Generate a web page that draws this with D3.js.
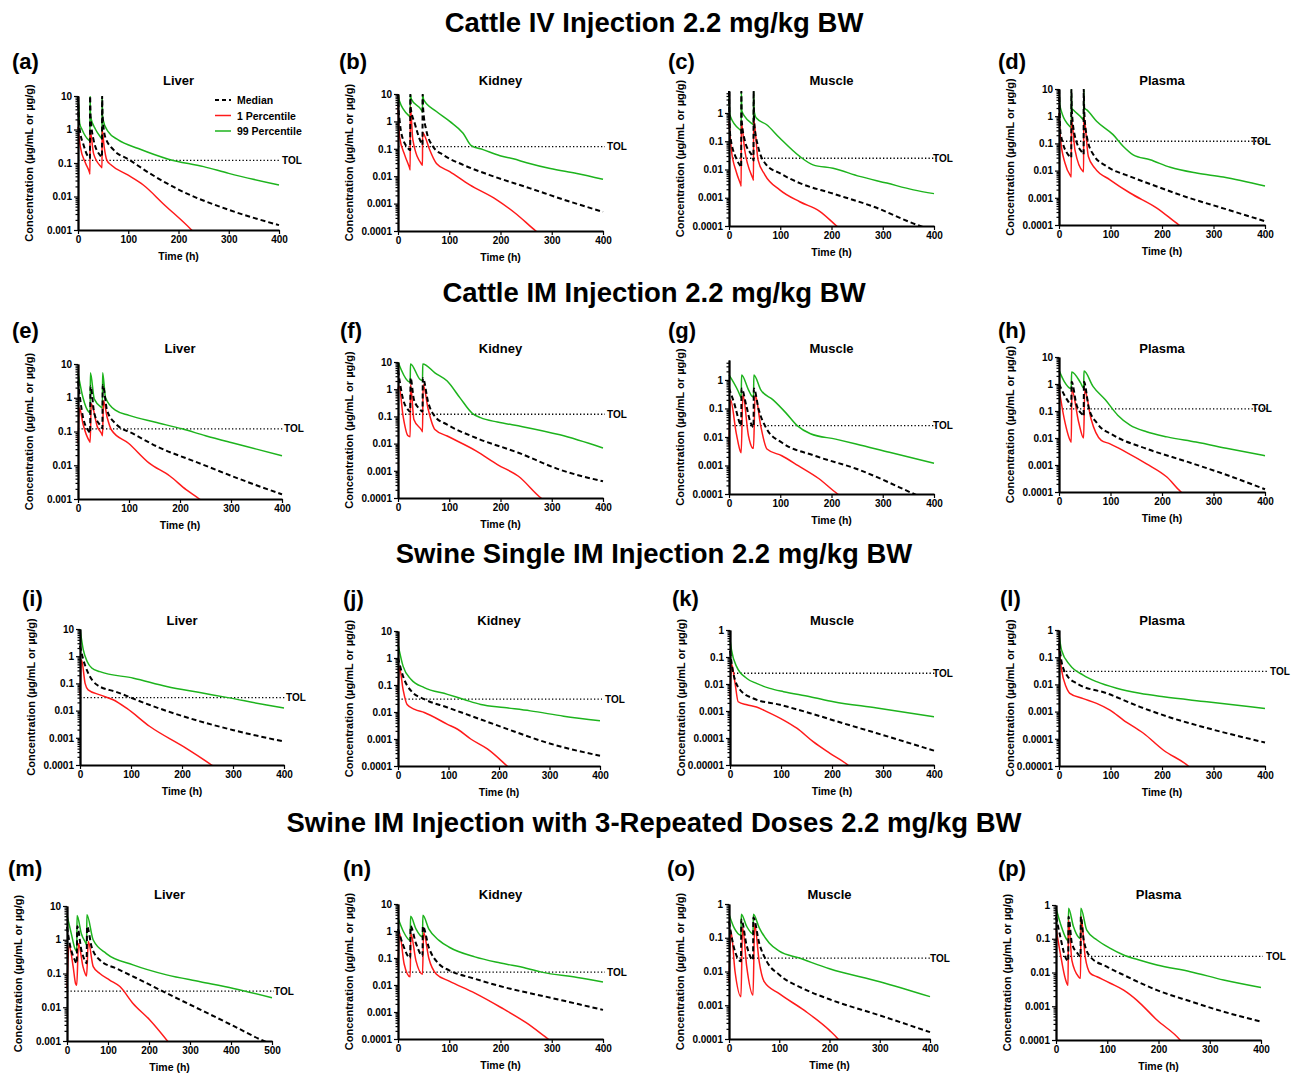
<!DOCTYPE html>
<html>
<head>
<meta charset="utf-8">
<script src="https://cdn.jsdelivr.net/npm/d3@7"></script>
<style>
  body { margin: 0; background: #fff; }
  text { font-family: "Liberation Sans", Arial, sans-serif; font-weight: bold; fill: #000; }
</style>
</head>
<body>
<svg id="fig" width="1298" height="1075"></svg>
<script>
// ---- labels ----
const sectionTitles = [
  "Cattle IV Injection 2.2 mg/kg BW",
  "Cattle IM Injection 2.2 mg/kg BW",
  "Swine Single IM Injection 2.2 mg/kg BW",
  "Swine IM Injection with 3-Repeated Doses 2.2 mg/kg BW"
];
const panelLetters = ["(a)","(b)","(c)","(d)","(e)","(f)","(g)","(h)","(i)","(j)","(k)","(l)","(m)","(n)","(o)","(p)"];
const organs = ["Liver","Kidney","Muscle","Plasma"];
const legendLabels = ["Median","1 Percentile","99 Percentile"];
const xTitle = "Time (h)";
const yTitle = "Concentration (\u00b5g/mL or \u00b5g/g)";
const tolText = "TOL";

// ---- axis settings per panel ----
const tolValues = [0.12,0.12,0.025,0.12, 0.12,0.12,0.025,0.12, 0.03,0.03,0.025,0.03, 0.03,0.03,0.025,0.03];
const yMaxValues = [10,10,6,10, 10,10,5,10, 10,10,1,1, 10,10,1,1];
const yMinValues = [0.001,0.0001,0.0001,0.0001, 0.001,0.0001,0.0001,0.0001, 0.0001,0.0001,0.00001,0.00001, 0.001,0.0001,0.0001,0.0001];
const xMaxValues = [400,400,400,400, 400,400,400,400, 400,400,400,400, 500,400,400,400];
const yTickValues = [10,1,0.1,0.01,0.001,0.0001,0.00001];
const yTickLabels = ["10","1","0.1","0.01","0.001","0.0001","0.00001"];
const xTickStep = 100;

// ---- concentration-time profiles: [time (h), concentration] ----
// Cattle IV
const aMedian = [[0,10],[1,2.5],[4.6,0.77],[10,0.39],[20,0.155],[23.8,0.14],[24,10],[25,2.5],[31,0.49],[44,0.17],[47.8,0.15],[48,10],[49,2.5],[54,0.61],[71,0.245],[100,0.13],[143,0.049],[202,0.0156],[300,0.004],[400,0.0014]];
const aLow = [[0,1.2],[4.6,0.31],[15,0.098],[23.5,0.049],[23.8,0.047],[24,0.97],[31,0.19],[46,0.077],[47.8,0.072],[48,1.0],[52,0.31],[57.5,0.12],[66,0.087],[99,0.044],[130,0.022],[170,0.006],[226,0.001],[240,0.0006]];
const aHigh = [[0,10],[2,3.4],[3.3,1.53],[8,1.0],[21,0.49],[23.8,0.46],[24,10],[25,2.4],[35,1.0],[47,0.54],[47.8,0.52],[48,10],[49,2.2],[60,0.86],[80,0.49],[120,0.27],[180,0.13],[250,0.078],[300,0.049],[400,0.022]];

const bMedian = [[0,10],[1,3],[3,1.15],[6.5,0.37],[19.6,0.105],[23.8,0.09],[24,10],[25,3],[32.6,0.86],[45.7,0.16],[47.8,0.14],[48,10],[49,3],[55,0.49],[68.5,0.12],[88,0.06],[127,0.026],[179,0.011],[258,0.0036],[323,0.0014],[400,0.0005]];
const bLow = [[0,3.5],[3,0.28],[13,0.06],[23,0.019],[23.8,0.017],[24,3.5],[29,0.21],[45.7,0.028],[47.8,0.025],[48,0.4],[52,0.3],[62,0.09],[75,0.029],[101,0.0147],[140,0.0048],[192,0.0014],[232,0.0004],[269,0.0001],[280,0.00007]];
const bHigh = [[0,10],[3,5.4],[23,1.5],[23.8,1.45],[24,10],[26,6.5],[47.5,2.3],[47.8,2.2],[48,10],[50,6.2],[75,2.3],[101,1.0],[127,0.37],[143,0.13],[166,0.093],[199,0.056],[225,0.043],[251,0.031],[297,0.019],[349,0.0125],[400,0.0077]];

const cMedian = [[0,6],[1,0.5],[2.6,0.15],[14,0.025],[22,0.0135],[23.8,0.012],[24,6],[25,0.5],[30.6,0.11],[47.5,0.022],[47.8,0.021],[48,6],[49,0.5],[56.7,0.066],[73,0.0146],[99,0.0074],[138,0.0033],[203,0.0014],[281,0.00049],[373,0.0001],[400,0.00007]];
const cLow = [[0,0.5],[4.6,0.05],[14,0.0085],[23.5,0.0027],[23.8,0.0026],[24,0.45],[30.6,0.05],[47.6,0.0043],[47.8,0.0042],[48,0.6],[56.7,0.022],[70,0.0065],[99,0.0019],[138,0.00072],[177,0.00033],[210,0.0001],[220,0.00007]];
const cHigh = [[0,6],[1,1.2],[2.6,0.76],[21,0.26],[23.8,0.24],[24,6],[25,1.2],[30.6,0.76],[47,0.39],[47.8,0.38],[48,6],[49,1.2],[53.4,0.66],[73,0.39],[99,0.13],[138,0.029],[164,0.0146],[203,0.011],[255,0.0057],[308,0.0033],[360,0.0019],[400,0.0014]];

const dMedian = [[0,10],[1,1.5],[3,0.24],[18,0.038],[23,0.031],[23.8,0.03],[24,10],[25,1.5],[31,0.18],[46,0.044],[47.8,0.04],[48,10],[49,1.5],[54,0.18],[67,0.038],[93,0.0142],[138,0.0061],[190,0.0026],[254,0.00097],[319,0.00041],[400,0.000138]];
const dLow = [[0,1.3],[3,0.14],[11.6,0.019],[23,0.0061],[23.8,0.0058],[24,0.75],[31,0.058],[47,0.0092],[47.8,0.009],[48,1.0],[57,0.033],[70,0.012],[99,0.0046],[138,0.0015],[190,0.00042],[233,0.0001],[245,0.00007]];
const dHigh = [[0,10],[2,2.3],[21,0.42],[23.8,0.38],[24,10],[25,2],[28,1.7],[47,0.74],[47.8,0.7],[48,10],[49,2],[54,1.7],[73,0.65],[105,0.21],[125,0.077],[144,0.038],[177,0.025],[216,0.0132],[267,0.0081],[319,0.0058],[400,0.0027]];

// Cattle IM
const eMedian = [[0,3.1],[9.7,0.27],[22,0.098],[23.8,0.09],[24.5,2.2],[32,0.34],[46,0.137],[47.8,0.125],[48.5,2.4],[57,0.42],[74,0.17],[107,0.088],[155,0.036],[236,0.0118],[317,0.0039],[400,0.00137]];
const eLow = [[0,0.045],[3,0.5],[9.7,0.17],[23,0.05],[23.8,0.048],[26,0.66],[38,0.137],[47.6,0.078],[48,0.075],[50,0.82],[57,0.27],[66,0.109],[99,0.045],[139,0.0118],[180,0.0048],[212,0.0019],[238,0.001],[250,0.0007]];
const eHigh = [[0,5.5],[9.7,1.02],[22,0.37],[23.8,0.36],[24.3,5.5],[32,0.91],[46,0.52],[47.8,0.5],[48.3,5.5],[54,1.0],[74,0.42],[100,0.3],[150,0.19],[204,0.12],[250,0.075],[300,0.047],[350,0.03],[400,0.019]];

const fMedian = [[0,5],[10,0.42],[19,0.18],[23.8,0.15],[24.5,2.6],[31,0.42],[43,0.18],[47.8,0.15],[48.5,2.6],[59,0.32],[72,0.1],[96,0.05],[153,0.016],[235,0.0046],[316,0.0011],[400,0.00041]];
const fLow = [[0,1.0],[2,1.3],[10,0.1],[19,0.02],[23.8,0.018],[24.5,1.5],[31,0.077],[47,0.029],[47.8,0.027],[49,1.5],[59,0.18],[72,0.033],[96,0.019],[153,0.0053],[194,0.0017],[235,0.00063],[279,0.0001],[290,0.00007]];
const fHigh = [[0,10],[19,2.0],[23.8,1.8],[24.3,8.5],[43,2.3],[47.8,2.1],[48.3,8.5],[72,4.0],[96,2.0],[121,0.48],[145,0.13],[161,0.09],[194,0.062],[243,0.042],[316,0.021],[400,0.0069]];

const gMedian = [[0,0.51],[10,0.156],[22,0.028],[23.8,0.025],[24.5,0.5],[34,0.12],[42,0.032],[47.8,0.022],[48.5,0.5],[58,0.091],[74,0.0186],[103,0.0064],[167,0.0022],[248,0.00077],[361,0.0001],[380,0.00007]];
const gLow = [[0,0.005],[3,0.2],[14,0.014],[23,0.0029],[23.8,0.0028],[27,0.3],[38,0.011],[45,0.0043],[47.8,0.004],[51,0.3],[62,0.024],[74,0.0038],[103,0.0022],[135,0.00099],[175,0.00035],[212,0.0001],[225,0.00007]];
const gHigh = [[0,1.5],[18,0.4],[23,0.25],[23.8,0.24],[24.5,1.5],[38,0.45],[44,0.28],[47.8,0.25],[48.5,1.5],[62,0.45],[86,0.2],[111,0.07],[133,0.025],[159,0.013],[208,0.0084],[248,0.0057],[313,0.0029],[400,0.0012]];

const hMedian = [[0,1.0],[10,0.4],[22,0.17],[23.8,0.15],[24.5,1.2],[34,0.17],[46,0.071],[47.8,0.065],[48.5,1.2],[58,0.126],[74,0.035],[106,0.0126],[170,0.004],[250,0.0013],[330,0.0004],[400,0.000126]];
const hLow = [[0,0.7],[10,0.053],[23.5,0.0071],[23.8,0.007],[25,0.6],[38,0.04],[47.8,0.01],[50,0.6],[62,0.053],[82,0.0082],[98,0.0062],[130,0.003],[170,0.0011],[210,0.00035],[237,0.0001],[250,0.00007]];
const hHigh = [[0,3.2],[10,1.26],[23.8,0.67],[24.5,2.8],[42,1.1],[47.8,0.7],[48.5,3.0],[66,0.82],[90,0.26],[114,0.07],[138,0.03],[170,0.017],[210,0.011],[266,0.0071],[330,0.004],[400,0.0022]];

// Swine single IM
const iMedian = [[0,2.4],[6.5,0.74],[16,0.24],[33,0.089],[72,0.048],[137,0.016],[203,0.0061],[301,0.0019],[400,0.00073]];
const iLow = [[0,0.038],[3,0.74],[10,0.1],[16,0.058],[39,0.038],[65,0.025],[92,0.012],[137,0.0026],[203,0.00047],[258,0.0001],[270,0.00007]];
const iHigh = [[0,10],[6.5,1.7],[14,0.64],[23,0.37],[39,0.27],[105,0.156],[170,0.077],[235,0.046],[290,0.03],[366,0.016],[400,0.0125]];

const jMedian = [[0,1.03],[10,0.21],[26,0.06],[52,0.03],[98,0.0147],[164,0.0053],[230,0.0019],[295,0.00073],[400,0.00024]];
const jLow = [[0,0.052],[3,0.44],[10,0.069],[18,0.019],[33,0.0125],[52,0.0096],[98,0.0035],[118,0.0023],[144,0.001],[177,0.00043],[216,0.0001],[225,0.00007]];
const jHigh = [[0,3.2],[10,0.5],[26,0.16],[52,0.08],[98,0.045],[131,0.029],[164,0.019],[210,0.0146],[262,0.011],[328,0.007],[400,0.0047]];

const kMedian = [[0,0.167],[6.5,0.025],[20,0.006],[46,0.0029],[98,0.0017],[157,0.00083],[222,0.00035],[288,0.00015],[400,0.000034]];
const kLow = [[0,0.0034],[3,0.055],[10,0.0105],[16,0.0022],[33,0.0017],[52,0.0014],[72,0.00095],[105,0.00046],[131,0.00023],[163,0.000073],[196,0.000027],[231,0.00001],[240,0.000007]];
const kHigh = [[0,0.45],[3,0.18],[13,0.044],[33,0.016],[52,0.0105],[78,0.0069],[105,0.0052],[157,0.0034],[203,0.0022],[288,0.0013],[400,0.00061]];

const lMedian = [[0,0.32],[5,0.068],[15,0.022],[34,0.011],[93,0.0047],[157,0.0015],[222,0.00056],[287,0.00025],[400,0.000073]];
const lLow = [[0,0.21],[5,0.034],[13.6,0.0083],[21,0.0047],[47,0.003],[73,0.002],[99,0.00113],[125,0.00049],[164,0.00016],[203,0.000038],[251,0.00001],[260,0.000007]];
const lHigh = [[0,0.69],[5,0.18],[21,0.052],[47,0.022],[73,0.0126],[112,0.0072],[157,0.0047],[203,0.0035],[287,0.0023],[400,0.0013]];

// Swine IM, three repeated doses
const mMedian = [[0,2.4],[6.5,0.78],[19,0.25],[23.8,0.2],[25,2.5],[35,0.5],[43,0.25],[47.8,0.2],[49,2.5],[60,0.62],[80,0.25],[121,0.14],[178,0.065],[243,0.026],[325,0.0085],[406,0.0028],[480,0.001],[500,0.0008]];
const mLow = [[0,0.036],[5,0.7],[15,0.16],[21,0.05],[23.8,0.045],[28,0.78],[39,0.16],[46,0.09],[47.8,0.085],[52,0.88],[64,0.16],[80,0.1],[104,0.064],[129,0.041],[161,0.013],[202,0.0042],[245,0.001],[255,0.0007]];
const mHigh = [[0,5.4],[10.6,1.5],[19,0.56],[23.8,0.45],[24.5,5.2],[35,1.5],[46,0.78],[47.8,0.7],[48.5,5.5],[64,0.98],[96,0.39],[161,0.18],[243,0.091],[325,0.057],[406,0.036],[500,0.019]];

const nMedian = [[0,1.2],[10,0.3],[23.8,0.1],[24.5,1.5],[35,0.35],[47.8,0.12],[48.5,1.5],[60,0.25],[80,0.06],[100,0.035],[150,0.017],[200,0.009],[300,0.0033],[400,0.0012]];
const nLow = [[0,0.05],[3,0.8],[12,0.06],[23.8,0.02],[25,0.8],[35,0.08],[47.8,0.025],[50,0.9],[60,0.1],[75,0.025],[100,0.014],[150,0.005],[200,0.0015],[250,0.0004],[293,0.0001],[300,0.00008]];
const nHigh = [[0,3],[10,1.0],[23.8,0.45],[24.5,3.5],[35,1.2],[47.8,0.6],[48.5,3.8],[60,1.2],[80,0.45],[100,0.25],[150,0.11],[200,0.065],[250,0.042],[280,0.03],[350,0.019],[400,0.013]];

const oMedian = [[0,0.3],[10,0.05],[23.8,0.02],[24.5,0.35],[35,0.06],[47.8,0.022],[48.5,0.4],[60,0.07],[75,0.02],[100,0.008],[150,0.003],[200,0.0015],[300,0.0005],[400,0.00016]];
const oLow = [[0,0.005],[4,0.15],[12,0.01],[23.8,0.0018],[27,0.2],[35,0.015],[47.8,0.002],[51,0.25],[60,0.02],[70,0.005],[100,0.0022],[150,0.0007],[200,0.00018],[217,0.0001],[225,0.00007]];
const oHigh = [[0,0.5],[10,0.2],[23.8,0.12],[24.5,0.5],[35,0.22],[47.8,0.13],[48.5,0.5],[60,0.2],[80,0.07],[100,0.04],[140,0.025],[200,0.012],[300,0.005],[400,0.0018]];

const pMedian = [[0,0.45],[8.4,0.115],[18,0.029],[23.8,0.022],[24.5,0.45],[31,0.073],[42,0.037],[47.8,0.03],[48.5,0.45],[54,0.092],[67,0.029],[99,0.0149],[132,0.0084],[197,0.003],[262,0.0014],[327,0.00069],[400,0.00035]];
const pLow = [[0,0.2],[8.4,0.037],[18,0.0067],[23.5,0.0042],[24.3,0.36],[31,0.023],[44,0.0075],[47.8,0.0067],[48.8,0.45],[57,0.029],[67,0.0094],[80,0.0075],[106,0.0048],[132,0.003],[158,0.0015],[197,0.00039],[242,0.0001],[250,0.00007]];
const pHigh = [[0,0.8],[8.4,0.29],[20,0.1],[23.8,0.085],[24.5,0.8],[34,0.23],[44,0.11],[47.8,0.1],[48.5,0.8],[60,0.18],[80,0.092],[106,0.052],[132,0.033],[164,0.023],[197,0.0166],[262,0.0106],[327,0.006],[400,0.0036]];

const profiles = [
  [aMedian,aLow,aHigh],[bMedian,bLow,bHigh],[cMedian,cLow,cHigh],[dMedian,dLow,dHigh],
  [eMedian,eLow,eHigh],[fMedian,fLow,fHigh],[gMedian,gLow,gHigh],[hMedian,hLow,hHigh],
  [iMedian,iLow,iHigh],[jMedian,jLow,jHigh],[kMedian,kLow,kHigh],[lMedian,lLow,lHigh],
  [mMedian,mLow,mHigh],[nMedian,nLow,nHigh],[oMedian,oLow,oHigh],[pMedian,pLow,pHigh]
];

// ---- page layout (pixel frames of each plot area) ----
const frames = [
  {x0:78, x1:279, yt:96,  yb:230, tolX:282,  lx:12,   ly:61},
  {x0:398,x1:603, yt:94,  yb:231, tolX:607,  lx:339,  ly:61},
  {x0:729,x1:934, yt:91,  yb:226, tolX:933,  lx:668,  ly:61},
  {x0:1059,x1:1265,yt:89, yb:225, tolX:1251, lx:998,  ly:61},
  {x0:78, x1:282, yt:364, yb:499, tolX:284,  lx:12,   ly:330},
  {x0:398,x1:603, yt:362, yb:498, tolX:607,  lx:340,  ly:330},
  {x0:729,x1:934, yt:360, yb:494, tolX:933,  lx:668,  ly:330},
  {x0:1059,x1:1265,yt:357,yb:492, tolX:1252, lx:998,  ly:330},
  {x0:80, x1:284, yt:629, yb:765, tolX:286,  lx:22,   ly:598},
  {x0:398,x1:600, yt:631, yb:766, tolX:605,  lx:343,  ly:598},
  {x0:730,x1:934, yt:630, yb:765, tolX:933,  lx:672,  ly:598},
  {x0:1059,x1:1265,yt:630,yb:766, tolX:1270, lx:1000, ly:598},
  {x0:67, x1:272, yt:906, yb:1041,tolX:274,  lx:8,    ly:868},
  {x0:398,x1:603, yt:904, yb:1039,tolX:607,  lx:343,  ly:868},
  {x0:729,x1:930, yt:904, yb:1039,tolX:930,  lx:667,  ly:868},
  {x0:1056,x1:1261,yt:905,yb:1040,tolX:1266, lx:998,  ly:868}
];
const rowTitleY = [80, 348, 620, 894];
const sectionY = [22, 292, 553, 822];
const seriesStyle = [
  {stroke:"#000000", width:2.0, dash:"5,3"},
  {stroke:"#ff1a1a", width:1.5, dash:null},
  {stroke:"#1db31d", width:1.5, dash:null}
];

const svg = d3.select("#fig");
const defs = svg.append("defs");

// Section headings
sectionTitles.forEach((t, r) => {
  svg.append("text")
    .attr("x", 654).attr("y", sectionY[r])
    .attr("text-anchor", "middle").attr("dominant-baseline", "central")
    .style("font-size", "27.5px")
    .text(t);
});

function minorTicks(lo, hi) {
  const out = [];
  for (let e = Math.floor(Math.log10(lo)); e <= Math.ceil(Math.log10(hi)); e++) {
    for (let k = 2; k <= 9; k++) {
      const v = k * Math.pow(10, e);
      if (v > lo * 1.0001 && v < hi * 0.9999) out.push(v);
    }
  }
  return out;
}

frames.forEach((f, i) => {
  const g = svg.append("g");
  const yMin = yMinValues[i], yMax = yMaxValues[i];
  const x = d3.scaleLinear().domain([0, xMaxValues[i]]).range([f.x0, f.x1]);
  const y = d3.scaleLog().domain([yMin, yMax]).range([f.yb, f.yt]);

  // panel letter and tissue title
  g.append("text").attr("x", f.lx).attr("y", f.ly)
    .attr("dominant-baseline", "central").style("font-size", "22px")
    .text(panelLetters[i]);
  g.append("text").attr("x", (f.x0 + f.x1) / 2).attr("y", rowTitleY[Math.floor(i / 4)])
    .attr("text-anchor", "middle").attr("dominant-baseline", "central")
    .style("font-size", "13px").text(organs[i % 4]);

  // tolerance line
  const tol = tolValues[i];
  g.append("line")
    .attr("x1", x(0)).attr("x2", f.x1 + 2)
    .attr("y1", y(tol)).attr("y2", y(tol))
    .attr("stroke", "#000").attr("stroke-width", 1.3)
    .attr("stroke-dasharray", "1.3,2.2");
  g.append("text").attr("x", f.tolX).attr("y", y(tol))
    .attr("dominant-baseline", "central").style("font-size", "10px")
    .text(tolText);

  // curves
  const clipId = "clip" + i;
  defs.append("clipPath").attr("id", clipId).append("rect")
    .attr("x", f.x0 - 2).attr("y", f.yt).attr("width", f.x1 - f.x0 + 4).attr("height", f.yb - f.yt);
  const line = d3.line().x(d => x(d[0])).y(d => y(d[1])).curve(d3.curveMonotoneX);
  const curves = g.append("g").attr("clip-path", `url(#${clipId})`);
  [2, 1, 0].forEach(s => {
    const st = seriesStyle[s];
    curves.append("path")
      .datum(profiles[i][s])
      .attr("d", line)
      .attr("fill", "none")
      .attr("stroke", st.stroke)
      .attr("stroke-width", st.width)
      .attr("stroke-dasharray", st.dash)
      .attr("stroke-linejoin", "round");
  });

  // axes
  const majors = yTickValues.filter(v => v >= yMin * 0.999 && v <= yMax * 1.001);
  const yAxis = d3.axisLeft(y).tickValues(majors)
    .tickFormat(v => yTickLabels[yTickValues.indexOf(v)])
    .tickSize(4).tickSizeOuter(0).tickPadding(2);
  const yMinor = d3.axisLeft(y).tickValues(minorTicks(yMin, yMax))
    .tickFormat("").tickSize(2.5).tickSizeOuter(0);
  const xAxis = d3.axisBottom(x).tickValues(d3.range(0, xMaxValues[i] + 1, xTickStep))
    .tickSize(4).tickSizeOuter(0).tickPadding(2);

  const gy = g.append("g").attr("transform", `translate(${f.x0},0)`);
  gy.call(yMinor);
  gy.append("g").call(yAxis);
  const gx = g.append("g").attr("transform", `translate(0,${f.yb})`).call(xAxis);

  [gy, gx].forEach(a => {
    a.selectAll("path.domain").attr("stroke", "#000").attr("stroke-width", 1.8);
    a.selectAll(".tick line").attr("stroke", "#000").attr("stroke-width", 1.2);
    a.selectAll("text").style("font-size", "10px")
      .style("font-family", '"Liberation Sans", Arial, sans-serif').style("font-weight", "bold").attr("fill", "#000");
  });

  // axis titles
  g.append("text").attr("x", (f.x0 + f.x1) / 2).attr("y", f.yb + 26)
    .attr("text-anchor", "middle").attr("dominant-baseline", "central")
    .style("font-size", "10.5px").text(xTitle);
  g.append("text")
    .attr("transform", `translate(${f.x0 - 49},${(f.yt + f.yb) / 2}) rotate(-90)`)
    .attr("text-anchor", "middle").attr("dominant-baseline", "central")
    .style("font-size", "11px").text(yTitle);

  // legend (first panel only)
  if (i === 0) {
    const lg = g.append("g");
    legendLabels.forEach((lab, s) => {
      const st = seriesStyle[s];
      const yy = 100 + s * 15.5;
      lg.append("line").attr("x1", 215).attr("x2", 231).attr("y1", yy).attr("y2", yy)
        .attr("stroke", st.stroke).attr("stroke-width", st.width)
        .attr("stroke-dasharray", st.dash ? "4,3" : null);
      lg.append("text").attr("x", 237).attr("y", yy)
        .attr("dominant-baseline", "central").style("font-size", "10.5px").text(lab);
    });
  }
});
</script>
</body>
</html>
